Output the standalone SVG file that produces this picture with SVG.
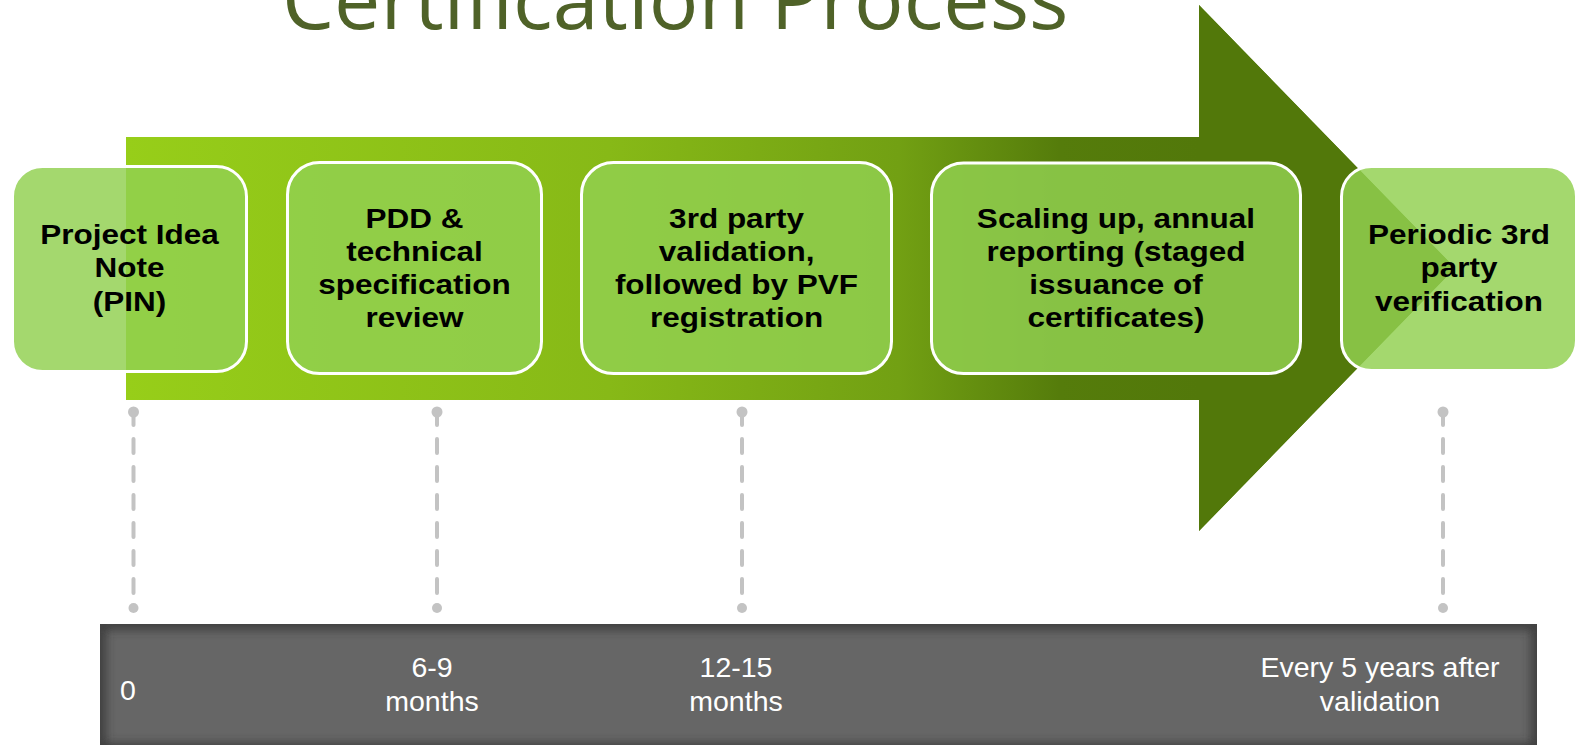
<svg xmlns="http://www.w3.org/2000/svg" width="1580" height="745" viewBox="0 0 1580 745">
  <defs>
    <linearGradient id="shaftGrad" gradientUnits="userSpaceOnUse" x1="126" y1="0" x2="1199" y2="0">
      <stop offset="0" stop-color="#97ce19"/>
      <stop offset="0.45" stop-color="#87b917"/>
      <stop offset="0.72" stop-color="#72a013"/>
      <stop offset="0.87" stop-color="#557c0b"/>
      <stop offset="1" stop-color="#52780a"/>
    </linearGradient>
    <clipPath id="barClip">
      <rect x="100" y="624" width="1437" height="125"/>
    </clipPath>
    <filter id="innerBlur" x="-5%" y="-20%" width="110%" height="140%">
      <feGaussianBlur stdDeviation="5"/>
    </filter>
    <style>
      .box { fill: #92d050; fill-opacity: 0.83; stroke: #ffffff; stroke-width: 3; }
      .btxt { font-family: "Liberation Sans", Arial, sans-serif; font-weight: bold; font-size: 28px; fill: #000000; text-anchor: middle; }
      .ttxt { font-family: "Liberation Sans", Arial, sans-serif; font-size: 28.5px; fill: #ffffff; text-anchor: middle; }
      .dash { stroke: #c3c3c3; stroke-width: 4; stroke-linecap: round; fill: none; }
      .dot { fill: #c3c3c3; }
    </style>
  </defs>

  <!-- Title -->
  <text x="282" y="28.5" font-family="'Open Sans', 'Liberation Sans', sans-serif" font-size="82.6" fill="#4f6228">Certification Process</text>

  <!-- Big arrow -->
  <polygon points="126,137 1199,137 1199,5 1455,268 1199,531 1199,400 126,400" fill="url(#shaftGrad)"/>
  <polygon points="1199,5 1455,268 1199,531" fill="#52780a"/>

  <!-- Connectors (dashed timeline ticks) -->
  <g id="connectors">
    <g transform="translate(133.5 0)">
      <circle class="dot" cx="0" cy="412" r="5.5"/>
      <line class="dash" x1="0" y1="412" x2="0" y2="425"/>
      <line class="dash" x1="0" y1="439" x2="0" y2="594" stroke-dasharray="14 14"/>
      <circle class="dot" cx="0" cy="608" r="5"/>
    </g>
    <g transform="translate(437 0)">
      <circle class="dot" cx="0" cy="412" r="5.5"/>
      <line class="dash" x1="0" y1="412" x2="0" y2="425"/>
      <line class="dash" x1="0" y1="439" x2="0" y2="594" stroke-dasharray="14 14"/>
      <circle class="dot" cx="0" cy="608" r="5"/>
    </g>
    <g transform="translate(742 0)">
      <circle class="dot" cx="0" cy="412" r="5.5"/>
      <line class="dash" x1="0" y1="412" x2="0" y2="425"/>
      <line class="dash" x1="0" y1="439" x2="0" y2="594" stroke-dasharray="14 14"/>
      <circle class="dot" cx="0" cy="608" r="5"/>
    </g>
    <g transform="translate(1443 0)">
      <circle class="dot" cx="0" cy="412" r="5.5"/>
      <line class="dash" x1="0" y1="412" x2="0" y2="425"/>
      <line class="dash" x1="0" y1="439" x2="0" y2="594" stroke-dasharray="14 14"/>
      <circle class="dot" cx="0" cy="608" r="5"/>
    </g>
  </g>

  <!-- Nodes -->
  <g id="node-pin">
    <rect class="box" x="12.5" y="166.5" width="234" height="205" rx="30"/>
    <g transform="translate(129.5 0) scale(1.125 1)">
      <text class="btxt" x="0" y="244">Project Idea</text>
      <text class="btxt" x="0" y="277.5">Note</text>
      <text class="btxt" x="0" y="311">(PIN)</text>
    </g>
  </g>
  <g id="node-pdd">
    <rect class="box" x="287.5" y="162.5" width="254" height="211" rx="32"/>
    <g transform="translate(414.5 0) scale(1.125 1)">
      <text class="btxt" x="0" y="228">PDD &amp;</text>
      <text class="btxt" x="0" y="261">technical</text>
      <text class="btxt" x="0" y="294.5">specification</text>
      <text class="btxt" x="0" y="327.5">review</text>
    </g>
  </g>
  <g id="node-validation">
    <rect class="box" x="581.5" y="162.5" width="310" height="211" rx="32"/>
    <g transform="translate(736.5 0) scale(1.125 1)">
      <text class="btxt" x="0" y="228">3rd party</text>
      <text class="btxt" x="0" y="261">validation,</text>
      <text class="btxt" x="0" y="294.5">followed by PVF</text>
      <text class="btxt" x="0" y="327.5">registration</text>
    </g>
  </g>
  <g id="node-scaling">
    <rect class="box" x="931.5" y="163" width="369" height="210.5" rx="32"/>
    <g transform="translate(1116 0) scale(1.125 1)">
      <text class="btxt" x="0" y="228">Scaling up, annual</text>
      <text class="btxt" x="0" y="261">reporting (staged</text>
      <text class="btxt" x="0" y="294.5">issuance of</text>
      <text class="btxt" x="0" y="327.5">certificates)</text>
    </g>
  </g>
  <g id="node-verification">
    <rect class="box" x="1341.5" y="166.5" width="235" height="204" rx="30"/>
    <g transform="translate(1459 0) scale(1.125 1)">
      <text class="btxt" x="0" y="244">Periodic 3rd</text>
      <text class="btxt" x="0" y="277.5">party</text>
      <text class="btxt" x="0" y="311">verification</text>
    </g>
  </g>

  <!-- Timeline bar -->
  <g id="timeline-bar">
    <rect x="100" y="624" width="1437" height="125" fill="#666666"/>
    <g clip-path="url(#barClip)">
      <rect x="100" y="624" width="1437" height="125" fill="none" stroke="#333333" stroke-width="12" filter="url(#innerBlur)" opacity="0.75"/>
    </g>
    <text class="ttxt" x="120" y="700" text-anchor="start" style="text-anchor:start">0</text>
    <text class="ttxt" x="432" y="677">6-9</text>
    <text class="ttxt" x="432" y="711">months</text>
    <text class="ttxt" x="736" y="677">12-15</text>
    <text class="ttxt" x="736" y="711">months</text>
    <text class="ttxt" x="1380" y="677">Every 5 years after</text>
    <text class="ttxt" x="1380" y="711">validation</text>
  </g>
</svg>
